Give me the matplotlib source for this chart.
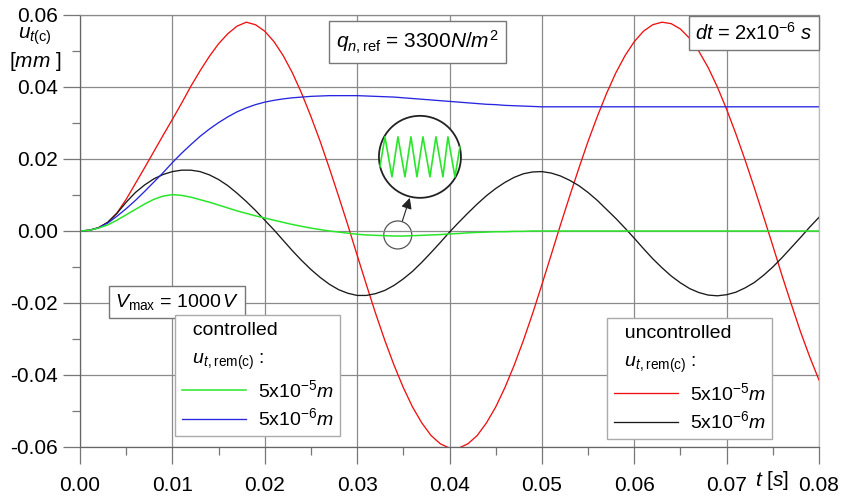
import matplotlib
matplotlib.use("Agg")
import matplotlib.pyplot as plt
import matplotlib.transforms as mtransforms
from matplotlib.patches import Circle
from matplotlib.ticker import MultipleLocator, FormatStrFormatter

# 글꼴 설정 (Arial 비슷한 Liberation Sans)
plt.rcParams['font.family'] = ['Liberation Sans', 'DejaVu Sans']
plt.rcParams['mathtext.fontset'] = 'custom'
plt.rcParams['mathtext.rm'] = 'Liberation Sans'
plt.rcParams['mathtext.it'] = 'Liberation Sans:italic'
plt.rcParams['mathtext.bf'] = 'Liberation Sans:bold'
plt.rcParams['axes.unicode_minus'] = False

# 시간 [s], 1 ms 간격
t_s = [0.000, 0.001, 0.002, 0.003, 0.004, 0.005, 0.006, 0.007, 0.008, 0.009,
       0.010, 0.011, 0.012, 0.013, 0.014, 0.015, 0.016, 0.017, 0.018, 0.019,
       0.020, 0.021, 0.022, 0.023, 0.024, 0.025, 0.026, 0.027, 0.028, 0.029,
       0.030, 0.031, 0.032, 0.033, 0.034, 0.035, 0.036, 0.037, 0.038, 0.039,
       0.040, 0.041, 0.042, 0.043, 0.044, 0.045, 0.046, 0.047, 0.048, 0.049,
       0.050, 0.051, 0.052, 0.053, 0.054, 0.055, 0.056, 0.057, 0.058, 0.059,
       0.060, 0.061, 0.062, 0.063, 0.064, 0.065, 0.066, 0.067, 0.068, 0.069,
       0.070, 0.071, 0.072, 0.073, 0.074, 0.075, 0.076, 0.077, 0.078, 0.079,
       0.080]

# uncontrolled, 5x10^-5 m (빨강)
unc_5e5 = [0.0, 0.0002, 0.0009, 0.0024, 0.0050, 0.0088, 0.0132, 0.0176, 0.0221, 0.0266,
           0.0310, 0.0355, 0.0402, 0.0445, 0.0485, 0.0520, 0.0548, 0.0569, 0.0580, 0.0573,
           0.0555, 0.0526, 0.0487, 0.0439, 0.0382, 0.0318, 0.0249, 0.0174, 0.0096, 0.0016,
           -0.0067, -0.0149, -0.0229, -0.0304, -0.0373, -0.0435, -0.0489, -0.0533, -0.0568, -0.0591,
           -0.0603, -0.0603, -0.0591, -0.0568, -0.0533, -0.0489, -0.0435, -0.0373, -0.0304, -0.0229,
           -0.0149, -0.0067, 0.0016, 0.0096, 0.0174, 0.0249, 0.0318, 0.0382, 0.0439, 0.0487,
           0.0526, 0.0555, 0.0573, 0.0580, 0.0576, 0.0561, 0.0535, 0.0499, 0.0454, 0.0400,
           0.0338, 0.0270, 0.0197, 0.0120, 0.0040, -0.0041, -0.0124, -0.0203, -0.0280, -0.0350,
           -0.0414]

# uncontrolled, 5x10^-6 m (검정)
unc_5e6 = [0.0, 0.0002, 0.0009, 0.0024, 0.0049, 0.0080, 0.0107, 0.0128, 0.0145, 0.0157,
           0.0165, 0.0169, 0.0169, 0.0165, 0.0156, 0.0143, 0.0126, 0.0105, 0.0082, 0.0057,
           0.0030, 0.0003, -0.0026, -0.0055, -0.0082, -0.0107, -0.0129, -0.0148, -0.0163, -0.0173,
           -0.0179, -0.0179, -0.0174, -0.0165, -0.0151, -0.0133, -0.0112, -0.0087, -0.0060, -0.0032,
           -0.0003, 0.0024, 0.0050, 0.0075, 0.0098, 0.0118, 0.0135, 0.0149, 0.0159, 0.0164,
           0.0165, 0.0161, 0.0153, 0.0141, 0.0126, 0.0107, 0.0085, 0.0060, 0.0035, 0.0008,
           -0.0020, -0.0049, -0.0077, -0.0102, -0.0125, -0.0144, -0.0160, -0.0171, -0.0178, -0.0180,
           -0.0177, -0.0170, -0.0158, -0.0143, -0.0123, -0.0100, -0.0074, -0.0046, -0.0018, 0.0011,
           0.0038]

# controlled, 5x10^-5 m (초록)
con_5e5 = [0.0, 0.0002, 0.0008, 0.0017, 0.0030, 0.0045, 0.0060, 0.0075, 0.0088, 0.0097,
           0.0101, 0.0099, 0.0094, 0.0087, 0.0080, 0.0072, 0.0064, 0.0056, 0.0049, 0.0042,
           0.0036, 0.0030, 0.0024, 0.0018, 0.0013, 0.0008, 0.0004, 0.0000, -0.0003, -0.0006,
           -0.0009, -0.0011, -0.0012, -0.0013, -0.0014, -0.0014, -0.0013, -0.0012, -0.0011, -0.0010,
           -0.0008, -0.0007, -0.0005, -0.0004, -0.0003, -0.0002, -0.0002, -0.0001, -0.0001, 0.0,
           0.0, 0.0, 0.0, 0.0, 0.0, 0.0, 0.0, 0.0, 0.0, 0.0,
           0.0, 0.0, 0.0, 0.0, 0.0, 0.0, 0.0, 0.0, 0.0, 0.0,
           0.0, 0.0, 0.0, 0.0, 0.0, 0.0, 0.0, 0.0, 0.0, 0.0,
           0.0]

# controlled, 5x10^-6 m (파랑)
con_5e6 = [0.0, 0.0002, 0.0009, 0.0022, 0.0041, 0.0062, 0.0085, 0.0110, 0.0136, 0.0162,
           0.0190, 0.0216, 0.0240, 0.0263, 0.0283, 0.0301, 0.0317, 0.0331, 0.0342, 0.0351,
           0.0358, 0.0363, 0.0367, 0.0370, 0.0372, 0.0374, 0.0375, 0.0376, 0.0376, 0.0376,
           0.0376, 0.0375, 0.0374, 0.0373, 0.0372, 0.0370, 0.0368, 0.0366, 0.0364, 0.0362,
           0.0360, 0.0358, 0.0356, 0.0354, 0.0352, 0.0351, 0.0349, 0.0348, 0.0347, 0.0346,
           0.0345, 0.0345, 0.0345, 0.0345, 0.0345, 0.0345, 0.0345, 0.0345, 0.0345, 0.0345,
           0.0345, 0.0345, 0.0345, 0.0345, 0.0345, 0.0345, 0.0345, 0.0345, 0.0345, 0.0345,
           0.0345, 0.0345, 0.0345, 0.0345, 0.0345, 0.0345, 0.0345, 0.0345, 0.0345, 0.0345,
           0.0345]

# 확대 원 안의 톱니 모양 (원 중심 기준 픽셀 오프셋)
zoom_dx = [-40, -35, -28, -22, -15, -9, -3, 3, 10, 16, 23, 28, 35, 40]
zoom_dy = [-10, 20, -20, 20, -20, 20, -20, 20, -20, 20, -20, 20, -20, 10]

GREEN = '#2ae62a'

fig = plt.figure(figsize=(8.42, 4.96), dpi=100)
ax = fig.add_axes([80 / 842, 49 / 496, 739 / 842, 432 / 496])

ln_r, = ax.plot(t_s, unc_5e5, color='#f01010', lw=0.95)
ln_k, = ax.plot(t_s, unc_5e6, color='#1a1a1a', lw=0.95)
ln_b, = ax.plot(t_s, con_5e6, color='#2626e0', lw=0.95)
ln_g, = ax.plot(t_s, con_5e5, color=GREEN, lw=1.1)

ax.set_xlim(0, 0.08)
ax.set_ylim(-0.06, 0.06)
ax.xaxis.set_major_locator(MultipleLocator(0.01))
ax.xaxis.set_minor_locator(MultipleLocator(0.005))
ax.yaxis.set_major_locator(MultipleLocator(0.02))
ax.yaxis.set_minor_locator(MultipleLocator(0.01))
ax.xaxis.set_major_formatter(FormatStrFormatter('%.2f'))
ax.yaxis.set_major_formatter(FormatStrFormatter('%.2f'))
ax.grid(True, which='major', color='#8a8a8a', lw=0.9)
ax.tick_params(which='major', direction='out', length=12, width=0.9, color='#777777',
               labelsize=15, pad=4)
ax.tick_params(axis='x', which='major', pad=9)
ax.tick_params(which='minor', direction='out', length=6, width=0.9, color='#777777')
for side in ['left', 'bottom']:
    ax.spines[side].set_color('#666666')
    ax.spines[side].set_linewidth(0.9)
ax.spines['top'].set_color('#8a8a8a')
ax.spines['top'].set_linewidth(0.9)
ax.spines['right'].set_color('#bbbbbb')
ax.spines['right'].set_linewidth(0.9)

# 축 제목
ax.text(-0.061, 0.950, r'$u_{t\mathrm{(c)}}$', transform=ax.transAxes, fontsize=15,
        ha='center', va='center')
ax.text(-0.061, 0.892, r'[$mm$ ]', transform=ax.transAxes, fontsize=15,
        ha='center', va='center')
ax.text(0.936, -0.078, r'$t$ [$s$]', transform=ax.transAxes, fontsize=15,
        ha='center', va='center')

# 텍스트 상자
ax.text(0.457, 0.9375, r'$q_{n,\mathrm{ref}}$ = 3300$N/m^{\mathrm{2}}$', transform=ax.transAxes,
        fontsize=15, ha='center', va='center',
        bbox=dict(boxstyle='square,pad=0.35', fc='white', ec='#777777', lw=1))
ax.text(0.912, 0.958, r'$dt$ = 2x10$^{-6}$ $s$', transform=ax.transAxes,
        fontsize=14.5, ha='center', va='center',
        bbox=dict(boxstyle='square,pad=0.3', fc='white', ec='#777777', lw=1))
ax.text(0.131, 0.336, r'$V_{\mathrm{max}}$ = 1000$\,V$', transform=ax.transAxes,
        fontsize=14, ha='center', va='center',
        bbox=dict(boxstyle='square,pad=0.3', fc='white', ec='#777777', lw=1))

# 범례
leg_kw = dict(loc='upper left', borderaxespad=0, fontsize=14, title_fontsize=14,
              frameon=True, fancybox=False, framealpha=1, edgecolor='#aaaaaa',
              handlelength=3.3, handletextpad=0.6, labelspacing=0.35, alignment='left',
              borderpad=0.35)
leg1 = ax.legend([ln_g, ln_b], [r'5x10$^{-5}$$m$', r'5x10$^{-6}$$m$'],
                 title='  controlled\n  $u_{t,\\mathrm{rem(c)}}$ :',
                 bbox_to_anchor=(0.1286, 0.3056), **leg_kw)
leg1.get_frame().set_linewidth(1)
leg1.get_title().set_linespacing(1.95)
ax.add_artist(leg1)
leg2 = ax.legend([ln_r, ln_k], [r'5x10$^{-5}$$m$', r'5x10$^{-6}$$m$'],
                 title='  uncontrolled\n  $u_{t,\\mathrm{rem(c)}}$ :',
                 bbox_to_anchor=(0.713, 0.2986), **leg_kw)
leg2.get_frame().set_linewidth(1)
leg2.get_title().set_linespacing(1.95)

# 확대 표시
small_tr = mtransforms.Affine2D() + mtransforms.ScaledTranslation(0.0344, -0.0011, ax.transData)
ax.add_patch(Circle((0, 0), 14, transform=small_tr, fill=False, ec='#555555', lw=0.9))
big_tr = mtransforms.Affine2D() + mtransforms.ScaledTranslation(0.0368, 0.0206, ax.transData)
ax.add_patch(Circle((0, 0), 41, transform=big_tr, fc='white', ec='#222222', lw=1.3, zorder=5))
ax.plot(zoom_dx, zoom_dy, color=GREEN, lw=1.2, transform=big_tr, zorder=6)
ax.annotate('', xy=(0.0357, 0.0092), xytext=(0.0349, 0.0028),
            arrowprops=dict(arrowstyle='-|>', mutation_scale=16, lw=0.8, color='#222222',
                            shrinkA=0, shrinkB=0))

fig.savefig('out.png', dpi=100)
